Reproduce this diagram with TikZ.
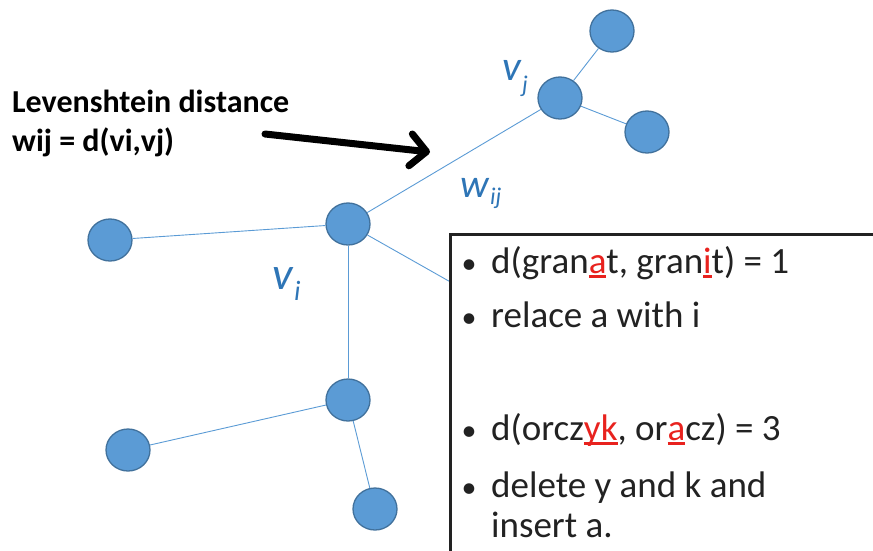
\documentclass[tikz,border=0pt]{standalone}
\usepackage{fontspec}
\setmainfont{Carlito}
\usetikzlibrary{arrows.meta,shapes.geometric}
\definecolor{nodefill}{HTML}{5B9BD5}
\definecolor{nodeline}{HTML}{41719C}
\definecolor{edgeblue}{HTML}{5B9BD5}
\definecolor{lblblue}{HTML}{2E75B6}
\definecolor{ured}{HTML}{E8221E}
\definecolor{txt}{HTML}{222222}
\newsavebox\ubox
\newcommand\redu[1]{\textcolor{ured}{\sbox\ubox{#1}\rlap{\rule[-4.5pt]{\wd\ubox}{2.5pt}}\usebox\ubox}}
\tikzset{
  vert/.style={ellipse, minimum width=44pt, minimum height=42pt, inner sep=0pt, fill=nodefill, draw=nodeline, line width=1.3pt},
  edge/.style={draw=edgeblue, line width=0.9pt},
  lbl/.style={text=lblblue, inner sep=0pt, anchor=base west, font=\itshape},
  btxt/.style={text=txt, inner sep=0pt, anchor=base west, font=\fontsize{37}{44}\selectfont},
  bul/.style={text=txt, inner sep=0pt, anchor=base, font=\fontsize{30}{36}\selectfont},
  left lbl/.style={text=black, inner sep=0pt, anchor=base west, font=\bfseries\fontsize{32}{38}\selectfont},
}
\begin{document}
\begin{tikzpicture}[x=1pt,y=-1pt]
\useasboundingbox (0,0) rectangle (873,550);
\clip (0,0) rectangle (873,550);
% vertices
\node[vert] (top) at (612,31) {};
\node[vert] (vj) at (560,98) {};
\node[vert] (rt) at (647,132) {};
\node[vert] (vi) at (348,224) {};
\node[vert] (lf) at (110,240) {};
\node[vert] (md) at (348,400) {};
\node[vert] (ll) at (128,450) {};
\node[vert] (bt) at (375,509) {};
\coordinate (hid) at (500,310);
% edges
\draw[edge] (top) -- (vj);
\draw[edge] (vj) -- (rt);
\draw[edge] (vj) -- (vi);
\draw[edge] (vi) -- (lf);
\draw[edge] (vi) -- (md);
\draw[edge] (vi) -- (hid);
\draw[edge] (md) -- (ll);
\draw[edge] (md) -- (bt);
% labels
\node[lbl, font=\itshape\fontsize{42}{46}\selectfont] (vjl) at (502,80) {v};
\node[lbl, font=\itshape\fontsize{24}{28}\selectfont] (vjs) at (522,92) {j};
\node[lbl, font=\itshape\fontsize{40}{44}\selectfont] (wl) at (460,197) {w};
\node[lbl, font=\itshape\fontsize{24}{28}\selectfont] (ws) at (490,204) {ij};
\node[lbl, font=\itshape\fontsize{46}{50}\selectfont] (vil) at (272,289) {v};
\node[lbl, font=\itshape\fontsize{28}{32}\selectfont] (vis) at (294,300) {i};
% left text and arrow
\node[left lbl] (t1) at (12,112) {Levenshtein distance};
\node[left lbl] (t2) at (12,151) {wij = d(vi,vj)};
\coordinate (as) at (265,134);
\coordinate (ae) at (430,152);
\draw[line width=7pt, line cap=round, -{Straight Barb[length=16pt,width=32pt,round]}] (as) -- (ae);
% box
\draw[line width=3pt, draw=txt, fill=white] (450,600) -- (450,234) -- (900,234) -- (900,600) -- cycle;
\node[bul] (b1) at (469,273) {\textbullet};
\node[btxt] (l1) at (491,273) {d(gran\redu{a}t, gran\redu{i}t) = 1};
\node[bul] (b2) at (469,327) {\textbullet};
\node[btxt] (l2) at (491,327) {relace a with i};
\node[bul] (b3) at (469,440) {\textbullet};
\node[btxt] (l3) at (491,440) {d(orcz\redu{yk}, or\redu{a}cz) = 3};
\node[bul] (b4) at (469,497) {\textbullet};
\node[btxt] (l4) at (491,497) {delete y and k and};
\node[btxt] (l5) at (491,537) {insert a.};
\end{tikzpicture}
\end{document}
